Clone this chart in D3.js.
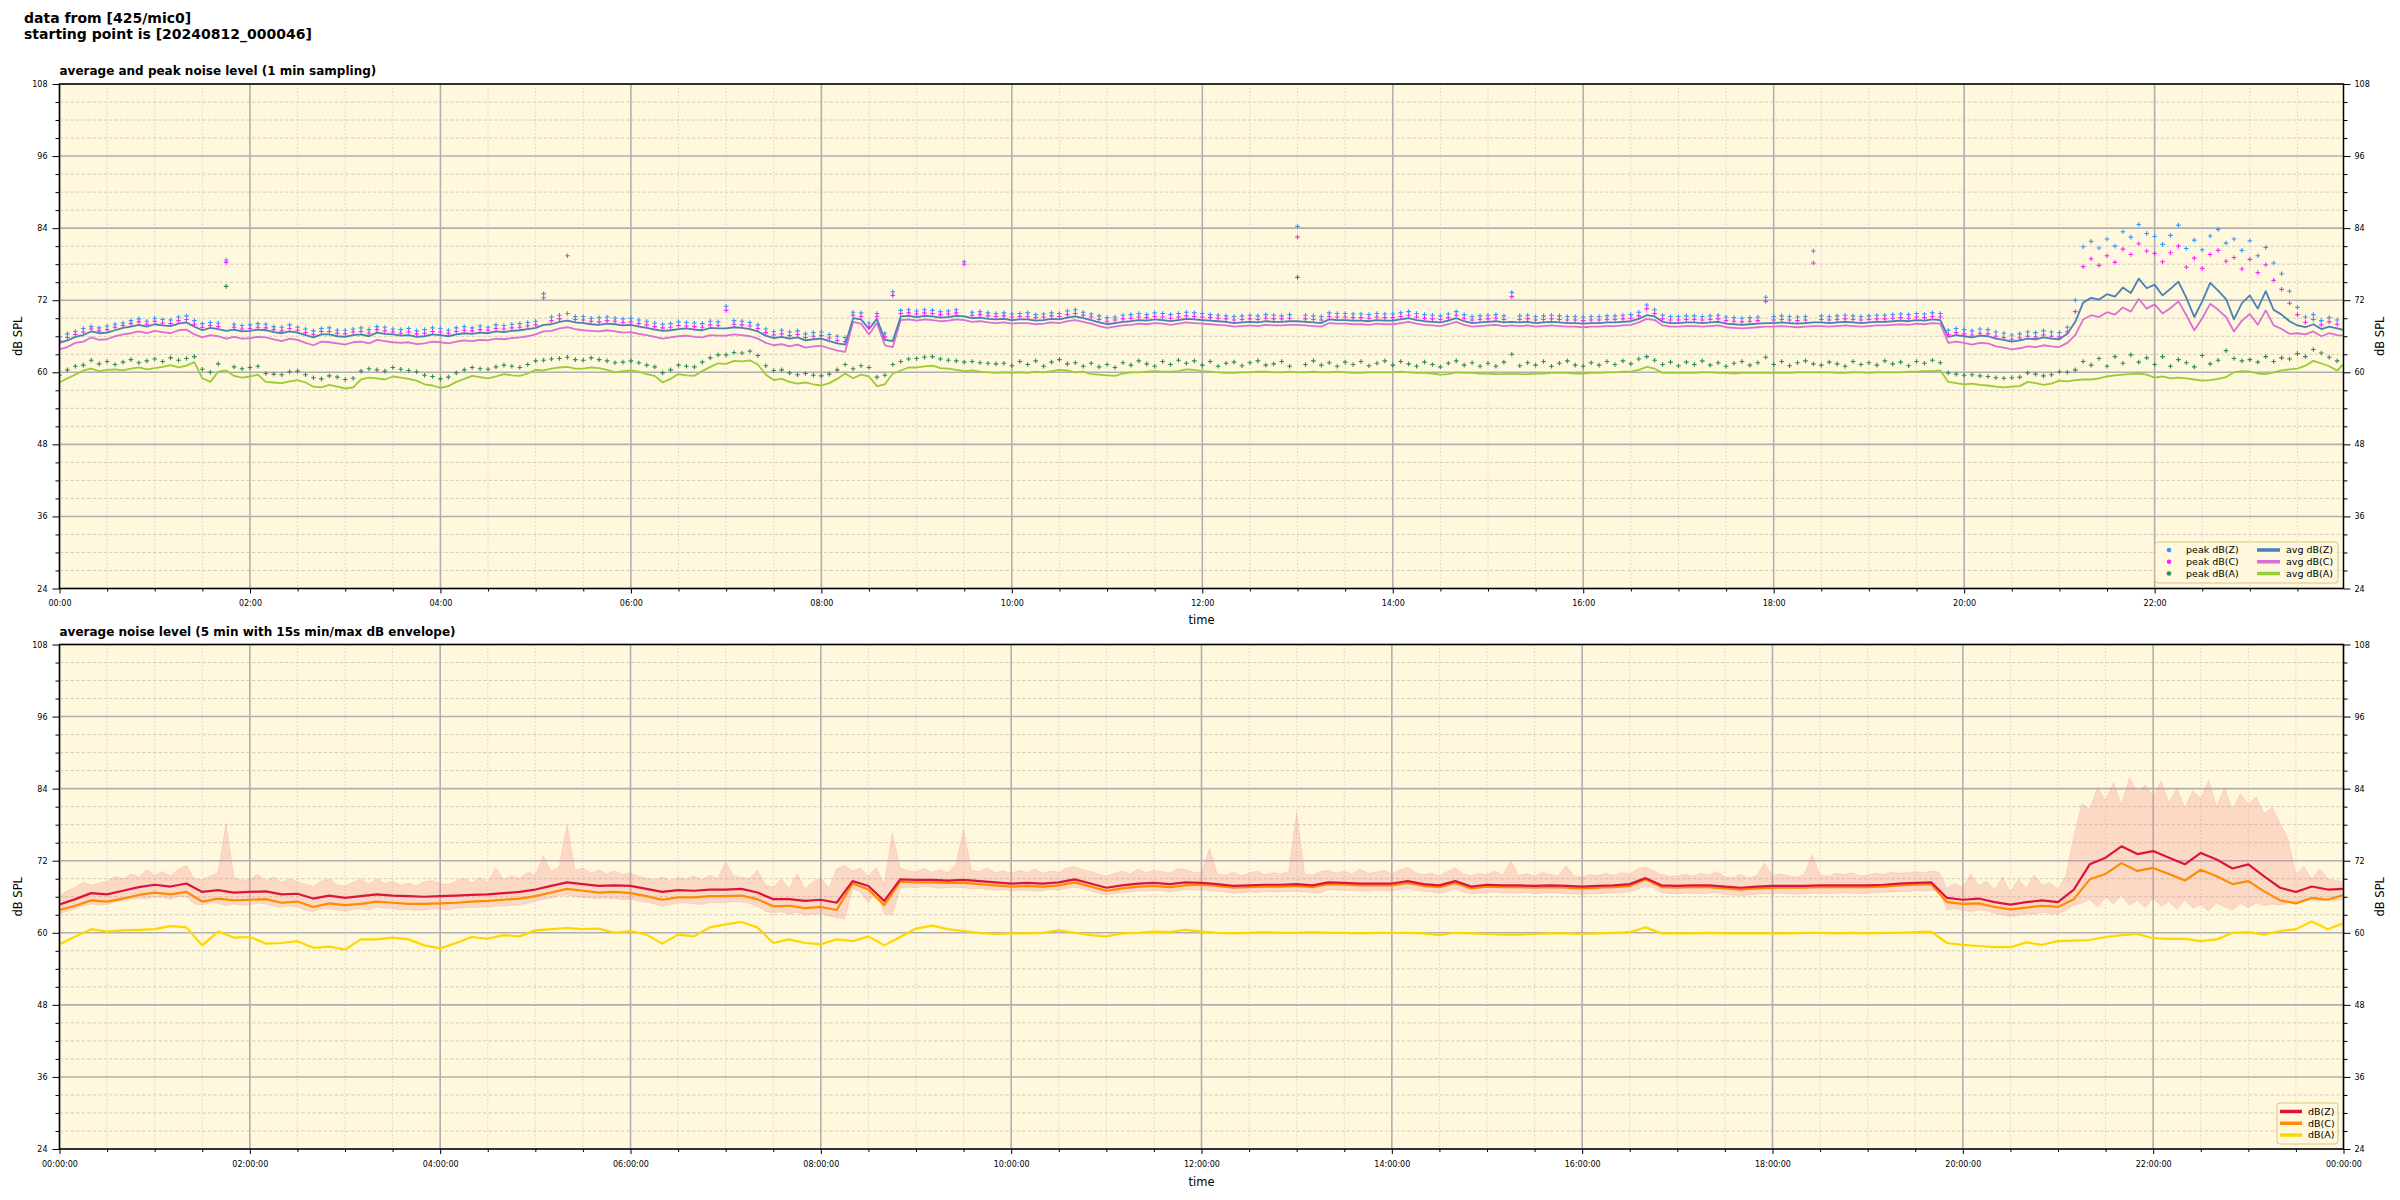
<!DOCTYPE html>
<html>
<head>
<meta charset="utf-8">
<title>noise level 425/mic0</title>
<script src="https://d3js.org/d3.v7.min.js"></script>
<style>
  body { margin: 0; background: #fff; }
  svg { display: block; font-family: "DejaVu Sans", sans-serif; }
</style>
</head>
<body>
<svg id="chart"></svg>
<script>
// ---- data ----
// top panel: one value every 5 minutes, 00:00 .. 24:00
const stepTop = 5;
const avgZ = [
  64.9,65.3,65.9,66.2,66.8,66.5,66.6,67.0,67.4,67.6,67.9,67.6,
  68.0,67.8,67.7,68.1,68.3,67.6,67.0,67.4,67.2,66.9,67.1,66.8,
  66.9,67.1,67.0,66.7,66.5,66.8,66.6,66.2,65.8,66.3,66.3,66.0,
  65.9,66.2,66.3,66.0,66.6,66.4,66.3,66.1,66.2,65.9,66.0,66.3,
  66.2,66.0,66.3,66.5,66.4,66.6,66.5,66.8,66.7,66.9,67.0,67.2,
  67.4,67.9,68.0,68.4,68.6,68.3,68.2,68.0,67.9,68.1,68.0,67.8,
  67.9,67.6,67.4,67.1,66.9,67.0,67.2,67.3,67.1,67.0,67.4,67.3,
  67.3,67.5,67.4,67.2,66.8,66.1,65.7,65.9,65.6,65.8,65.3,65.5,
  65.6,65.2,64.8,64.6,69.0,68.8,67.2,68.9,65.4,65.2,69.3,69.4,
  69.2,69.4,69.3,69.1,69.2,69.4,69.3,69.0,69.1,68.9,68.8,68.9,
  68.7,68.8,68.8,68.6,68.7,68.9,68.8,69.1,69.3,69.0,68.7,68.3,
  68.0,68.2,68.4,68.5,68.7,68.6,68.8,68.7,68.5,68.7,68.9,68.8,
  68.7,68.6,68.5,68.4,68.2,68.3,68.4,68.3,68.5,68.4,68.4,68.5,
  68.5,68.4,68.3,68.2,68.8,68.7,68.7,68.6,68.6,68.5,68.7,68.6,
  68.6,68.8,69.0,68.7,68.5,68.4,68.3,68.6,69.0,68.5,68.2,68.3,
  68.4,68.5,68.3,68.4,68.3,68.4,68.2,68.3,68.4,68.3,68.2,68.2,
  68.1,68.2,68.2,68.3,68.3,68.4,68.5,68.9,69.5,69.3,68.4,68.2,
  68.2,68.3,68.3,68.2,68.3,68.4,68.1,68.0,67.9,68.0,68.1,68.2,
  68.2,68.3,68.2,68.1,68.2,68.3,68.3,68.2,68.3,68.4,68.3,68.2,
  68.3,68.4,68.4,68.5,68.6,68.5,68.7,68.6,68.8,68.7,65.9,66.2,
  66.0,65.8,66.1,66.0,65.6,65.4,65.1,65.3,65.6,65.5,65.8,65.6,
  65.5,66.4,68.4,71.6,72.4,72.1,73.0,72.6,74.1,73.2,75.6,74.0,
  74.6,72.8,73.9,75.1,72.4,69.2,71.8,74.9,73.6,72.2,68.8,71.5,
  72.8,70.6,73.5,70.4,69.6,68.5,67.8,67.5,68.0,67.2,67.6,67.3,
  67.0
];
const avgC = [
  63.8,64.2,64.9,65.1,65.8,65.4,65.5,66.0,66.3,66.5,66.8,66.5,
  66.9,66.7,66.5,67.0,67.1,66.3,65.8,66.2,66.0,65.6,65.9,65.6,
  65.7,65.9,65.8,65.5,65.2,65.6,65.4,64.9,64.5,65.1,65.0,64.8,
  64.6,65.0,65.1,64.8,65.4,65.2,65.0,64.9,65.0,64.7,64.8,65.1,
  65.0,64.8,65.1,65.3,65.2,65.4,65.3,65.6,65.5,65.7,65.8,66.0,
  66.3,66.8,66.9,67.3,67.5,67.2,67.0,66.9,66.8,67.0,66.8,66.6,
  66.7,66.4,66.2,65.9,65.6,65.8,66.0,66.1,65.9,65.8,66.2,66.1,
  66.1,66.3,66.2,66.0,65.6,64.9,64.5,64.7,64.3,64.6,64.1,64.3,
  64.4,64.0,63.6,63.4,68.4,68.1,66.3,68.2,64.5,64.2,68.7,68.8,
  68.6,68.8,68.7,68.5,68.6,68.8,68.7,68.4,68.5,68.3,68.2,68.3,
  68.1,68.2,68.2,68.0,68.1,68.3,68.2,68.5,68.7,68.4,68.1,67.7,
  67.4,67.6,67.8,67.9,68.1,68.0,68.2,68.1,67.9,68.1,68.3,68.2,
  68.1,68.0,67.9,67.8,67.6,67.7,67.8,67.7,67.9,67.8,67.8,67.9,
  67.9,67.8,67.7,67.6,68.2,68.1,68.1,68.0,68.0,67.9,68.1,68.0,
  68.0,68.2,68.4,68.1,67.9,67.8,67.7,68.0,68.4,67.9,67.6,67.7,
  67.8,67.9,67.7,67.8,67.7,67.8,67.6,67.7,67.8,67.7,67.6,67.6,
  67.5,67.6,67.6,67.7,67.7,67.8,67.9,68.3,68.9,68.7,67.8,67.6,
  67.6,67.7,67.7,67.6,67.7,67.8,67.5,67.4,67.3,67.4,67.5,67.6,
  67.6,67.7,67.6,67.5,67.6,67.7,67.7,67.6,67.7,67.8,67.7,67.6,
  67.7,67.8,67.8,67.9,68.0,67.9,68.1,68.0,68.2,68.1,64.9,65.1,
  64.9,64.6,64.9,64.8,64.3,64.1,63.8,64.0,64.3,64.2,64.5,64.3,
  64.2,64.9,66.2,68.8,69.5,69.2,70.0,69.6,70.8,70.1,72.2,70.6,
  71.3,69.8,70.7,71.8,69.5,67.0,69.0,71.4,70.4,69.2,66.8,68.6,
  69.7,67.9,70.3,67.8,67.2,66.4,66.5,66.3,66.8,66.0,66.5,66.2,
  66.1
];
const avgA = [
  58.3,59.0,59.6,60.3,60.6,60.2,60.4,60.5,60.3,60.6,60.8,60.5,
  60.7,60.9,61.2,60.8,61.1,61.7,59.0,58.4,60.1,60.3,59.4,59.1,
  59.3,59.6,58.4,58.3,58.2,58.5,58.7,58.3,57.6,57.5,57.9,57.6,
  57.3,57.5,58.8,59.1,59.0,58.8,59.3,59.1,58.9,58.6,58.0,57.8,
  57.4,57.7,58.4,58.9,59.4,59.2,59.0,59.3,59.7,59.5,59.4,59.8,
  60.4,60.3,60.6,60.8,60.9,60.6,60.6,60.8,60.7,60.4,60.0,60.2,
  60.3,60.1,59.7,59.4,58.3,58.9,59.7,59.5,59.4,60.2,60.9,61.5,
  61.4,61.9,61.8,62.0,61.3,59.6,58.7,58.9,58.4,58.1,58.3,58.0,
  57.8,58.2,58.9,59.8,59.0,59.6,59.3,57.7,58.0,59.8,60.3,60.8,
  60.8,61.0,61.1,60.7,60.6,60.4,60.2,60.3,60.1,60.0,59.9,60.0,
  59.9,60.0,59.9,60.1,60.0,60.2,60.4,60.3,60.0,60.1,59.7,59.6,
  59.5,59.4,59.8,60.0,60.0,60.1,60.2,60.1,60.1,60.2,60.5,60.4,
  60.2,60.1,60.0,59.9,59.9,60.0,60.0,60.1,60.1,60.0,60.0,60.1,
  60.0,60.0,60.1,60.0,60.0,60.1,60.0,59.9,59.9,60.0,60.0,60.0,
  60.0,60.1,60.0,59.9,59.9,59.8,59.6,59.7,60.0,59.9,59.9,59.8,
  59.8,59.7,59.7,59.8,59.7,59.7,59.8,59.8,59.9,59.9,59.9,59.8,
  59.8,59.9,59.9,60.0,60.0,60.1,60.1,60.4,60.9,60.6,59.9,59.9,
  59.9,59.9,59.9,60.0,60.0,59.9,59.9,59.8,59.9,59.9,59.9,59.9,
  59.9,59.9,59.9,60.0,60.0,60.0,60.0,60.0,59.9,59.9,60.0,60.0,
  59.9,60.0,60.0,60.0,60.0,60.1,60.1,60.2,60.2,60.3,58.4,58.2,
  58.0,58.1,57.9,57.8,57.6,57.5,57.6,57.7,58.4,58.2,57.9,58.1,
  58.6,58.5,58.7,58.8,58.8,59.0,59.3,59.5,59.6,59.7,59.8,59.6,
  59.1,59.3,59.0,59.1,59.0,58.8,58.6,58.7,58.9,59.2,60.0,60.2,
  60.1,59.8,59.7,60.0,60.3,60.5,60.6,61.1,61.9,61.5,61.0,60.3,
  61.6
];
const peakZ = [
  65.9,66.4,66.8,67.3,67.6,67.4,67.7,68.0,68.2,68.6,68.9,68.5,
  69.0,68.8,68.7,69.2,69.4,68.6,68.1,68.3,68.2,78.7,68.0,67.8,
  67.9,68.1,68.0,67.6,67.5,67.9,67.5,67.2,66.9,67.3,67.4,67.0,
  67.0,67.2,67.4,67.1,67.6,67.5,67.2,67.1,67.3,66.9,67.1,67.4,
  67.3,67.0,67.4,67.6,67.4,67.7,67.5,67.9,67.8,68.0,68.1,68.3,
  68.5,73.1,69.2,69.5,69.8,69.3,69.3,69.0,69.1,69.2,69.0,68.9,
  69.0,68.7,68.5,68.2,68.0,68.1,68.4,68.3,68.2,68.1,68.5,68.4,
  71.0,68.6,68.5,68.3,67.9,67.2,66.8,67.0,66.7,66.9,66.4,66.6,
  66.7,66.3,66.0,65.8,70.0,69.9,68.2,69.8,66.5,73.4,70.3,70.4,
  70.2,70.4,70.3,70.1,70.2,70.4,78.4,70.0,70.1,69.9,69.8,69.9,
  69.7,69.8,69.9,69.6,69.7,69.9,69.8,70.2,70.4,70.0,69.7,69.4,
  69.1,69.2,69.5,69.6,69.8,69.6,69.9,69.8,69.6,69.8,70.0,69.9,
  69.8,69.6,69.5,69.4,69.3,69.4,69.5,69.4,69.6,69.5,69.4,69.6,
  84.3,69.5,69.4,69.3,69.9,69.8,69.8,69.7,69.7,69.6,69.8,69.7,
  69.7,69.9,70.1,69.8,69.6,69.5,69.4,69.7,70.1,69.6,69.3,69.4,
  69.5,69.6,69.4,73.3,69.4,69.5,69.3,69.4,69.5,69.4,69.3,69.3,
  69.2,69.3,69.3,69.4,69.4,69.5,69.6,70.0,71.2,70.4,69.5,69.3,
  69.3,69.4,69.4,69.3,69.4,69.5,69.2,69.1,69.0,69.1,69.2,72.5,
  69.3,69.4,69.3,69.2,69.3,80.2,69.4,69.3,69.4,69.5,69.4,69.3,
  69.4,69.5,69.5,69.6,69.7,69.6,69.8,69.7,69.9,69.8,67.0,67.3,
  67.1,66.9,67.2,67.1,66.7,66.5,66.2,66.4,66.7,66.6,66.9,66.7,
  66.6,67.5,72.0,80.9,81.8,80.7,82.2,81.0,83.4,82.5,84.6,83.1,
  82.6,81.3,82.8,84.5,80.6,82.0,80.4,82.7,83.8,81.5,82.2,80.3,
  81.9,79.4,80.8,78.2,76.4,73.5,70.8,69.2,69.6,68.6,69.1,68.7,
  68.4
];
const peakC = [
  65.3,65.8,66.3,66.7,67.2,66.9,67.1,67.5,67.8,68.1,68.4,68.0,
  68.5,68.2,68.1,68.6,68.8,68.0,67.5,67.8,67.6,78.3,67.5,67.2,
  67.3,67.5,67.4,67.1,66.9,67.3,67.0,66.6,66.3,66.8,66.8,66.5,
  66.4,66.7,66.8,66.5,67.1,66.9,66.7,66.5,66.7,66.4,66.5,66.8,
  66.7,66.5,66.8,67.0,66.9,67.1,67.0,67.3,67.2,67.4,67.5,67.7,
  67.9,72.4,68.6,68.9,79.4,68.8,68.7,68.5,68.4,68.6,68.5,68.3,
  68.4,68.1,67.9,67.6,67.4,67.5,67.8,67.7,67.6,67.5,67.9,67.8,
  70.3,68.0,67.9,67.7,67.3,66.6,66.2,66.4,66.1,66.3,65.8,66.0,
  66.1,65.7,65.3,65.1,69.5,69.3,67.6,69.3,65.9,72.8,69.8,69.9,
  69.7,69.9,69.8,69.6,69.7,69.9,78.0,69.5,69.6,69.4,69.3,69.4,
  69.2,69.3,69.3,69.1,69.2,69.4,69.3,69.6,69.8,69.5,69.2,68.8,
  68.5,68.7,68.9,69.0,69.2,69.1,69.3,69.2,69.0,69.2,69.4,69.3,
  69.2,69.1,69.0,68.9,68.7,68.8,68.9,68.8,69.0,68.9,68.9,69.0,
  82.5,68.9,68.8,68.7,69.3,69.2,69.2,69.1,69.1,69.0,69.2,69.1,
  69.1,69.3,69.5,69.2,69.0,68.9,68.8,69.1,69.5,69.0,68.7,68.8,
  68.9,69.0,68.8,72.6,68.8,68.9,68.7,68.8,68.9,68.8,68.7,68.7,
  68.6,68.7,68.7,68.8,68.8,68.9,69.0,69.4,70.6,69.8,68.9,68.7,
  68.7,68.8,68.8,68.7,68.8,68.9,68.6,68.5,68.4,68.5,68.6,71.8,
  68.7,68.8,68.7,68.6,68.7,78.2,68.8,68.7,68.8,68.9,68.8,68.7,
  68.8,68.9,68.9,69.0,69.1,69.0,69.2,69.1,69.3,69.2,66.3,66.6,
  66.4,66.2,66.5,66.4,66.0,65.8,65.5,65.7,66.0,65.9,66.2,66.0,
  65.9,66.7,70.1,77.6,78.9,77.8,79.4,78.3,80.5,79.6,81.4,80.2,
  79.8,78.4,79.9,81.0,77.5,79.0,77.3,79.6,80.3,78.5,79.1,77.2,
  78.8,76.6,77.9,75.3,73.8,71.5,69.6,68.3,68.8,67.9,68.4,68.0,
  67.8
];
const peakA = [
  59.5,60.4,61.0,61.2,62.0,61.4,61.8,61.3,61.7,62.1,61.6,61.9,
  62.2,61.8,62.4,62.0,62.3,62.6,60.5,60.0,61.4,74.3,60.9,60.6,
  60.8,61.0,59.8,59.7,59.6,60.1,60.2,59.6,59.1,58.9,59.4,59.2,
  58.8,59.0,60.2,60.6,60.4,60.2,60.8,60.5,60.3,60.1,59.5,59.3,
  58.9,59.2,59.9,60.4,60.8,60.6,60.5,60.9,61.2,61.0,60.8,61.3,
  61.9,62.0,62.2,62.3,62.5,62.1,62.0,62.4,62.1,61.9,61.6,61.7,
  61.9,61.6,61.2,60.9,59.9,60.4,61.2,61.0,60.9,61.7,62.4,62.9,
  62.9,63.3,63.2,63.5,62.8,61.1,60.3,60.4,59.9,59.6,59.8,59.5,
  59.4,59.7,60.4,61.3,60.6,61.1,60.8,59.2,59.5,61.3,61.8,62.2,
  62.3,62.5,62.6,62.2,62.0,61.9,61.7,61.8,61.6,61.5,61.4,61.5,
  61.1,61.8,61.3,61.9,61.0,61.7,62.1,61.4,61.6,61.0,61.5,60.9,
  61.3,60.8,61.6,61.2,61.9,61.4,61.0,61.8,61.3,62.0,61.5,61.9,
  61.2,61.8,61.0,61.5,61.7,61.1,61.6,61.9,61.2,61.4,61.8,61.0,
  75.8,61.3,61.9,61.2,61.6,61.0,61.7,61.3,61.8,61.1,61.5,61.9,
  61.2,61.8,61.4,61.0,61.7,61.3,60.9,61.5,61.9,61.2,61.6,61.0,
  61.5,61.0,61.7,63.0,61.1,61.6,61.2,61.8,61.0,61.5,61.9,61.2,
  61.0,61.6,61.2,61.8,61.3,61.9,61.4,62.2,62.6,62.0,61.3,61.7,
  61.1,61.7,61.3,61.9,61.2,61.6,61.0,61.5,61.8,61.2,61.6,62.5,
  61.3,61.8,61.1,61.6,61.9,61.4,61.2,61.7,61.4,61.0,61.8,61.3,
  61.6,61.2,61.9,61.4,61.7,61.1,61.8,61.5,62.0,61.6,59.9,59.7,
  59.5,59.6,59.4,59.3,59.1,59.0,59.1,59.2,59.9,59.7,59.4,59.6,
  60.1,60.0,60.4,61.8,61.2,62.3,61.0,62.6,61.5,62.9,61.7,62.4,
  61.3,62.6,61.0,62.1,61.6,60.9,62.8,61.4,62.0,63.6,62.3,61.9,
  62.1,61.7,62.6,61.8,62.4,62.2,63.1,62.6,63.8,63.2,62.5,61.9,
  62.8
];

// bottom panel: 5 min averages, one value every 10 minutes
const stepBottom = 10;
const dbZ = [
  64.7,65.6,66.6,66.4,67.0,67.6, 68.0,67.7,68.2,66.8,67.1,66.7,
  66.8,66.9,66.4,66.5,65.7,66.2, 65.8,66.1,66.4,66.2,66.1,66.0,
  66.1,66.2,66.3,66.4,66.6,66.8, 67.2,67.8,68.4,68.1,67.8,67.9,
  67.8,67.3,66.8,67.1,67.0,67.2, 67.2,67.3,66.7,65.6,65.6,65.3,
  65.5,65.0,68.6,67.8,65.3,68.9, 68.8,68.8,68.7,68.8,68.6,68.4,
  68.2,68.3,68.2,68.4,68.9,68.2, 67.5,67.9,68.2,68.3,68.1,68.4,
  68.3,68.1,67.8,67.9,68.0,68.0, 68.1,67.9,68.4,68.3,68.2,68.2,
  68.2,68.6,68.1,67.9,68.6,67.7, 68.0,67.9,67.9,67.8,67.9,67.8,
  67.7,67.8,67.9,68.1,69.1,67.9, 67.8,67.9,67.9,67.7,67.5,67.7,
  67.8,67.8,67.8,67.9,67.9,67.9, 67.9,68.0,68.2,68.3,68.4,65.8,
  65.5,65.7,65.1,64.7,65.1,65.4, 65.1,67.2,71.4,72.5,74.4,73.1,
  73.6,72.5,71.4,73.3,72.2,70.7, 71.4,69.4,67.5,66.8,67.7,67.2,
  67.3
];
const dbC = [
  63.8,64.5,65.4,65.2,65.7,66.3, 66.7,66.4,66.8,65.2,65.7,65.4,
  65.5,65.6,65.0,65.2,64.3,64.9, 64.6,64.8,65.2,65.0,64.8,64.8,
  64.9,65.0,65.2,65.3,65.5,65.7, 66.1,66.7,67.3,67.0,66.7,66.8,
  66.6,66.1,65.5,65.9,65.9,66.1, 66.1,66.2,65.6,64.4,64.5,64.1,
  64.3,63.8,68.2,67.2,64.6,68.5, 68.4,68.4,68.3,68.3,68.1,67.9,
  67.7,67.8,67.7,67.9,68.4,67.7, 67.0,67.4,67.7,67.8,67.6,67.9,
  68.0,67.8,67.5,67.6,67.7,67.7, 67.8,67.6,68.1,68.0,67.9,67.9,
  67.9,68.3,67.8,67.6,68.3,67.4, 67.7,67.6,67.6,67.5,67.6,67.5,
  67.4,67.5,67.6,67.8,68.9,67.6, 67.5,67.6,67.6,67.4,67.2,67.4,
  67.5,67.5,67.5,67.6,67.6,67.6, 67.6,67.7,67.9,68.0,68.1,65.1,
  64.8,64.9,64.3,63.9,64.2,64.5, 64.3,65.6,68.9,69.8,71.6,70.3,
  70.8,69.8,68.7,70.5,69.4,68.1, 68.6,66.9,65.4,64.9,65.8,65.5,
  66.3
];
const dbA = [
  58.1,59.4,60.6,60.2,60.4,60.5, 60.6,61.1,60.9,57.9,60.2,59.2,
  59.3,58.2,58.3,58.6,57.5,57.7, 57.2,58.9,58.9,59.2,58.9,57.9,
  57.4,58.3,59.3,59.0,59.6,59.4, 60.4,60.6,60.8,60.6,60.7,60.0,
  60.3,59.7,58.2,59.7,59.4,60.9, 61.4,61.8,60.9,58.3,58.9,58.3,
  58.1,58.9,58.6,59.4,57.9,59.3, 60.7,61.2,60.6,60.3,60.0,59.8,
  59.9,59.9,60.0,60.4,60.0,59.6, 59.4,59.9,60.0,60.2,60.1,60.5,
  60.2,60.0,59.9,60.0,60.1,60.0, 60.0,60.1,60.0,60.0,59.9,60.0,
  60.0,60.0,59.9,59.6,60.0,59.9, 59.8,59.7,59.7,59.8,59.9,59.9,
  59.8,59.9,60.0,60.1,60.9,59.9, 59.9,59.9,60.0,59.9,59.9,59.9,
  59.9,59.9,60.0,60.0,59.9,60.0, 59.9,60.0,60.0,60.1,60.2,58.3,
  58.0,57.8,57.6,57.6,58.4,58.0, 58.6,58.7,58.8,59.3,59.6,59.8,
  59.1,59.0,59.0,58.6,58.9,60.0, 60.1,59.7,60.3,60.6,61.9,60.6,
  61.6
];
// 15 s min/max envelope, one pair every 5 minutes
const stepEnv = 5;
const envHi = [
  66.2,67.0,67.6,68.4,67.9,68.3,68.6,69.4,69.0,69.8,69.3,70.5,
  69.6,70.2,69.4,70.6,71.2,69.0,68.8,69.5,70.0,78.2,69.2,68.7,
  68.9,69.8,68.6,69.3,68.4,69.0,68.5,68.1,67.7,68.6,68.9,68.0,
  67.8,68.4,68.9,68.1,69.0,68.2,68.6,67.9,68.3,67.8,68.5,68.7,
  68.2,68.0,68.6,69.1,68.3,69.2,68.4,70.8,68.9,69.5,69.0,70.1,
  69.6,72.8,70.2,71.0,78.0,70.4,70.8,69.9,70.5,69.8,70.3,69.7,
  70.0,69.4,69.1,68.8,69.3,68.7,69.2,68.9,69.5,68.8,69.6,69.0,
  71.8,69.5,69.2,69.0,70.4,68.0,67.6,68.9,67.4,69.8,67.3,68.5,
  69.2,67.4,70.6,71.2,70.3,70.8,69.4,70.9,68.0,76.6,70.8,70.3,
  70.2,70.7,70.1,70.5,70.0,71.2,77.2,70.4,70.2,70.8,70.0,70.3,
  69.9,70.4,70.0,70.6,69.9,70.3,70.1,70.8,71.0,70.5,70.2,69.8,
  69.4,69.9,70.3,69.8,70.6,70.0,70.4,70.2,69.9,70.7,70.5,70.1,
  70.0,74.0,69.8,69.6,70.1,69.5,69.9,70.3,69.7,70.0,69.8,70.2,
  80.0,69.8,69.6,70.2,70.4,69.9,70.3,69.8,70.6,69.9,70.1,70.4,
  69.8,70.5,70.9,70.0,69.7,69.9,69.5,70.2,70.8,69.8,69.5,69.9,
  69.7,70.3,69.6,72.0,69.5,69.9,69.4,70.1,69.7,69.5,71.2,69.4,
  69.3,69.7,69.5,69.9,69.6,70.0,69.8,70.6,71.0,70.3,69.7,69.4,
  69.5,69.8,69.4,69.9,69.6,70.2,69.3,69.2,69.7,69.1,69.5,71.6,
  69.4,69.8,69.5,69.3,69.7,73.0,69.6,69.4,69.9,69.7,70.0,69.5,
  69.6,69.9,69.7,70.1,69.9,70.0,70.2,70.0,70.3,70.1,67.4,68.2,
  67.5,69.8,67.9,68.6,67.2,69.3,66.8,68.9,67.4,69.6,67.9,68.4,
  67.2,69.5,76.0,81.5,80.6,84.2,82.0,85.0,81.3,85.8,83.4,84.6,
  82.7,85.3,81.6,84.0,80.8,83.6,82.3,85.4,81.0,84.1,80.5,83.2,
  81.4,82.6,79.8,80.9,78.2,75.6,69.7,71.0,68.9,70.6,69.0,68.7,
  68.5
];
const envLo = [
  63.2,63.6,64.0,64.5,64.8,64.6,64.7,65.1,65.4,65.6,65.8,65.7,
  66.0,65.9,65.6,66.1,66.0,64.8,64.6,65.0,64.9,64.5,64.8,64.6,
  64.7,64.9,64.8,64.4,64.2,64.5,64.3,63.8,63.5,64.0,64.0,63.8,
  63.6,63.9,64.0,63.8,64.3,64.1,64.0,63.8,63.9,63.7,63.8,64.0,
  64.0,63.8,64.1,64.2,64.2,64.3,64.3,64.5,64.4,64.6,64.7,64.9,
  65.2,65.6,65.8,66.2,66.3,66.1,65.9,65.8,65.7,65.8,65.7,65.5,
  65.6,65.3,65.1,64.8,64.4,64.7,64.9,65.0,64.8,64.7,65.1,65.0,
  65.0,65.2,65.1,64.9,64.4,63.6,63.3,63.5,63.1,63.4,62.9,63.1,
  63.2,62.8,62.5,62.3,67.3,66.8,65.0,67.0,63.2,63.0,67.4,67.6,
  67.5,67.7,67.6,67.4,67.5,67.6,67.5,67.3,67.4,67.2,67.1,67.2,
  67.0,67.1,67.1,66.9,67.0,67.2,67.1,67.4,67.6,67.3,67.0,66.6,
  66.3,66.5,66.7,66.8,67.0,66.9,67.1,67.0,66.8,67.0,67.2,67.1,
  67.2,67.0,66.9,66.8,66.6,66.7,66.8,66.7,66.9,66.8,66.8,66.9,
  66.9,66.8,66.7,66.6,67.2,67.1,67.1,67.0,67.0,66.9,67.1,67.0,
  67.0,67.2,67.4,67.1,66.9,66.8,66.6,66.9,67.3,66.8,66.5,66.6,
  66.7,66.8,66.6,66.7,66.6,66.7,66.5,66.6,66.7,66.6,66.5,66.5,
  66.4,66.5,66.5,66.6,66.6,66.7,66.8,67.2,67.8,67.5,66.7,66.5,
  66.5,66.6,66.6,66.5,66.6,66.7,66.4,66.3,66.2,66.3,66.4,66.5,
  66.5,66.6,66.5,66.4,66.5,66.6,66.6,66.5,66.6,66.7,66.6,66.5,
  66.6,66.7,66.7,66.8,66.9,66.8,67.0,66.9,67.1,67.0,63.8,64.0,
  63.8,63.5,63.8,63.7,63.2,63.0,62.7,62.9,63.2,63.1,63.4,63.2,
  63.1,63.8,64.6,64.9,65.6,64.3,65.9,64.8,66.2,64.6,65.4,64.2,
  65.8,64.4,65.2,63.9,65.5,64.1,64.7,63.6,65.0,64.3,63.8,64.9,
  64.2,65.0,64.5,64.8,64.6,64.9,65.3,65.2,65.6,65.3,65.5,65.4,
  65.6
];

// axis ticks
const yMajor = [24, 36, 48, 60, 72, 84, 96, 108];
const hourTicks = [0, 2, 4, 6, 8, 10, 12, 14, 16, 18, 20, 22, 24];

// ---- layout ----
const W = 2400, H = 1200;
const left = 59.5, right = 2343.5;
const svg = d3.select("#chart").attr("width", W).attr("height", H);

const panels = [
  { top: 84, bottom: 588.5, maxMin: 1439, fmt: m => hhmm(m),
    title: "average and peak noise level (1 min sampling)", labelY: 624 },
  { top: 644.5, bottom: 1149, maxMin: 1440, fmt: m => hhmm(m) + ":00",
    title: "average noise level (5 min with 15s min/max dB envelope)", labelY: 1186 }
];

function hhmm(m) {
  return String(Math.floor(m / 60) % 24).padStart(2, "0") + ":" + String(m % 60).padStart(2, "0");
}

const bg = "#fff8dc";
const yMinor = d3.range(24, 109, 3).filter(v => v % 12 !== 0);

// figure title
svg.append("text").attr("x", 24).attr("y", 23).attr("font-size", 14).attr("font-weight", "bold")
  .text("data from [425/mic0]");
svg.append("text").attr("x", 24).attr("y", 38.5).attr("font-size", 14).attr("font-weight", "bold")
  .text("starting point is [20240812_000046]");

panels.forEach((p, k) => {
  p.x = d3.scaleLinear().domain([0, p.maxMin]).range([left, right]);
  p.y = d3.scaleLinear().domain([24, 108]).range([p.bottom, p.top]);
  const g = svg.append("g");
  const x = p.x, y = p.y;

  g.append("rect").attr("x", left).attr("y", p.top)
    .attr("width", right - left).attr("height", p.bottom - p.top).attr("fill", bg);

  const majX = hourTicks.map(h => h * 60).filter(m => m <= p.maxMin);
  const minX = d3.range(30, p.maxMin, 30).filter(m => m % 120 !== 0);

  // grid
  const grid = g.append("g");
  grid.selectAll(".gyn").data(yMinor).join("line")
    .attr("x1", left).attr("x2", right).attr("y1", d => y(d)).attr("y2", d => y(d))
    .attr("stroke", "#c8c4b8").attr("stroke-width", 0.8).attr("stroke-dasharray", "3.5,2");
  grid.selectAll(".gxn").data(minX).join("line")
    .attr("y1", p.top).attr("y2", p.bottom).attr("x1", d => x(d)).attr("x2", d => x(d))
    .attr("stroke", "#d2cdbe").attr("stroke-width", 0.8).attr("stroke-dasharray", "1.5,2");
  grid.selectAll(".gy").data(yMajor).join("line")
    .attr("x1", left).attr("x2", right).attr("y1", d => y(d)).attr("y2", d => y(d))
    .attr("stroke", "#b0b0b0").attr("stroke-width", 1.6);
  grid.selectAll(".gx").data(majX).join("line")
    .attr("y1", p.top).attr("y2", p.bottom).attr("x1", d => x(d)).attr("x2", d => x(d))
    .attr("stroke", "#b0b0b0").attr("stroke-width", 1.6);

  // clip
  svg.append("clipPath").attr("id", "clip" + k).append("rect")
    .attr("x", left).attr("y", p.top).attr("width", right - left).attr("height", p.bottom - p.top);
  p.plot = svg.append("g").attr("clip-path", `url(#clip${k})`);

  // axes
  const styleAxis = sel => {
    sel.select(".domain").remove();
    sel.selectAll("text").attr("font-size", 8).attr("fill", "#000").attr("font-family", "DejaVu Sans, sans-serif");
    sel.selectAll("line").attr("stroke", "#000").attr("stroke-width", 1);
  };
  p.axes = svg.append("g");
  p.axes.append("g").attr("transform", `translate(${left},0)`)
    .call(d3.axisLeft(y).tickValues(yMajor).tickSize(7).tickPadding(5)).call(styleAxis);
  p.axes.append("g").attr("transform", `translate(${left},0)`)
    .call(d3.axisLeft(y).tickValues(yMinor).tickSize(4).tickFormat("")).call(styleAxis);
  p.axes.append("g").attr("transform", `translate(${right},0)`)
    .call(d3.axisRight(y).tickValues(yMajor).tickSize(7).tickPadding(4)).call(styleAxis);
  p.axes.append("g").attr("transform", `translate(${right},0)`)
    .call(d3.axisRight(y).tickValues(yMinor).tickSize(4).tickFormat("")).call(styleAxis);
  p.axes.append("g").attr("transform", `translate(0,${p.bottom})`)
    .call(d3.axisBottom(x).tickValues(majX).tickSize(5).tickPadding(7).tickFormat(p.fmt)).call(styleAxis);
  p.axes.append("g").attr("transform", `translate(0,${p.bottom})`)
    .call(d3.axisBottom(x).tickValues(minX).tickSize(3).tickFormat("")).call(styleAxis);

  // titles and labels
  svg.append("text").attr("x", left).attr("y", p.top - 9).attr("font-size", 12).attr("font-weight", "bold")
    .text(p.title);
  svg.append("text").attr("x", (left + right) / 2).attr("y", p.labelY).attr("text-anchor", "middle")
    .attr("font-size", 11.5).text("time");
  const mid = (p.top + p.bottom) / 2;
  svg.append("text").attr("transform", `translate(22,${mid}) rotate(-90)`).attr("text-anchor", "middle")
    .attr("font-size", 11.5).text("dB SPL");
  svg.append("text").attr("transform", `translate(2384,${mid}) rotate(-90)`).attr("text-anchor", "middle")
    .attr("font-size", 11.5).text("dB SPL");
});

// ---- top panel marks ----
const pt = panels[0];
const plus = "M-2.3,0H2.3M0,-2.3V2.3";
const peakSeries = [
  { vals: peakZ, color: "#3399ff" },
  { vals: peakC, color: "#ff22ff" },
  { vals: peakA, color: "#2e8b57" }
];
const avgSeries = [
  { vals: avgA, color: "#9acd32" },
  { vals: avgC, color: "#da70d6" },
  { vals: avgZ, color: "#4682b4" }
];
avgSeries.forEach(s => {
  const line = d3.line().x((d, i) => pt.x(i * stepTop)).y(d => pt.y(d));
  pt.plot.append("path").datum(s.vals).attr("d", line)
    .attr("fill", "none").attr("stroke", s.color).attr("stroke-width", 1.8).attr("stroke-linejoin", "round");
});
peakSeries.forEach(s => {
  pt.plot.append("g").selectAll("path").data(s.vals).join("path")
    .attr("transform", (d, i) => `translate(${pt.x(i * stepTop)},${pt.y(d)})`)
    .attr("d", plus).attr("stroke", s.color).attr("stroke-width", 1.1).attr("fill", "none");
});

// ---- bottom panel marks ----
const pb = panels[1];
const env = d3.area()
  .x((d, i) => pb.x(i * stepEnv))
  .y0((d, i) => pb.y(envLo[i]))
  .y1(d => pb.y(d));
pb.plot.append("path").datum(envHi).attr("d", env)
  .attr("fill", "#f08080").attr("fill-opacity", 0.26)
  .attr("stroke", "#f08080").attr("stroke-opacity", 0.2).attr("stroke-width", 1);

const lineSeries = [
  { vals: dbA, color: "#ffd700" },
  { vals: dbC, color: "#ff8c00" },
  { vals: dbZ, color: "#dc143c" }
];
lineSeries.forEach(s => {
  const line = d3.line().x((d, i) => pb.x(i * stepBottom)).y(d => pb.y(d));
  pb.plot.append("path").datum(s.vals).attr("d", line)
    .attr("fill", "none").attr("stroke", s.color).attr("stroke-width", 2.2).attr("stroke-linejoin", "round");
});

// spines on top of everything
panels.forEach(p => {
  svg.append("rect").attr("x", left).attr("y", p.top).attr("width", right - left)
    .attr("height", p.bottom - p.top).attr("fill", "none").attr("stroke", "#000").attr("stroke-width", 1.5);
});

// ---- legends ----
const legTop = svg.append("g");
legTop.append("rect").attr("x", 2155).attr("y", 542).attr("width", 183).attr("height", 41).attr("rx", 3)
  .attr("fill", bg).attr("fill-opacity", 0.85).attr("stroke", "#dcc28e").attr("stroke-width", 1);
const topLeg1 = ["peak dB(Z)", "peak dB(C)", "peak dB(A)"];
const topLeg2 = ["avg dB(Z)", "avg dB(C)", "avg dB(A)"];
const legY = d3.scalePoint().domain([0, 1, 2]).range([550, 573.5]);
topLeg1.forEach((t, i) => {
  legTop.append("circle").attr("cx", 2169).attr("cy", legY(i)).attr("r", 2.3).attr("fill", peakSeries[i].color);
  legTop.append("text").attr("x", 2186).attr("y", legY(i) + 3.4).attr("font-size", 9.5).text(t);
});
topLeg2.forEach((t, i) => {
  legTop.append("line").attr("x1", 2257).attr("x2", 2280).attr("y1", legY(i)).attr("y2", legY(i))
    .attr("stroke", avgSeries[2 - i].color).attr("stroke-width", 3.5);
  legTop.append("text").attr("x", 2286).attr("y", legY(i) + 3.4).attr("font-size", 9.5).text(t);
});

const legBot = svg.append("g");
legBot.append("rect").attr("x", 2277).attr("y", 1103).attr("width", 61).attr("height", 41).attr("rx", 3)
  .attr("fill", bg).attr("fill-opacity", 0.85).attr("stroke", "#dcc28e").attr("stroke-width", 1);
const botLeg = ["dB(Z)", "dB(C)", "dB(A)"];
const legY2 = d3.scalePoint().domain([0, 1, 2]).range([1111.5, 1135]);
botLeg.forEach((t, i) => {
  legBot.append("line").attr("x1", 2280).attr("x2", 2302).attr("y1", legY2(i)).attr("y2", legY2(i))
    .attr("stroke", lineSeries[2 - i].color).attr("stroke-width", 3.5);
  legBot.append("text").attr("x", 2308).attr("y", legY2(i) + 3.4).attr("font-size", 9.5).text(t);
});
</script>
</body>
</html>
